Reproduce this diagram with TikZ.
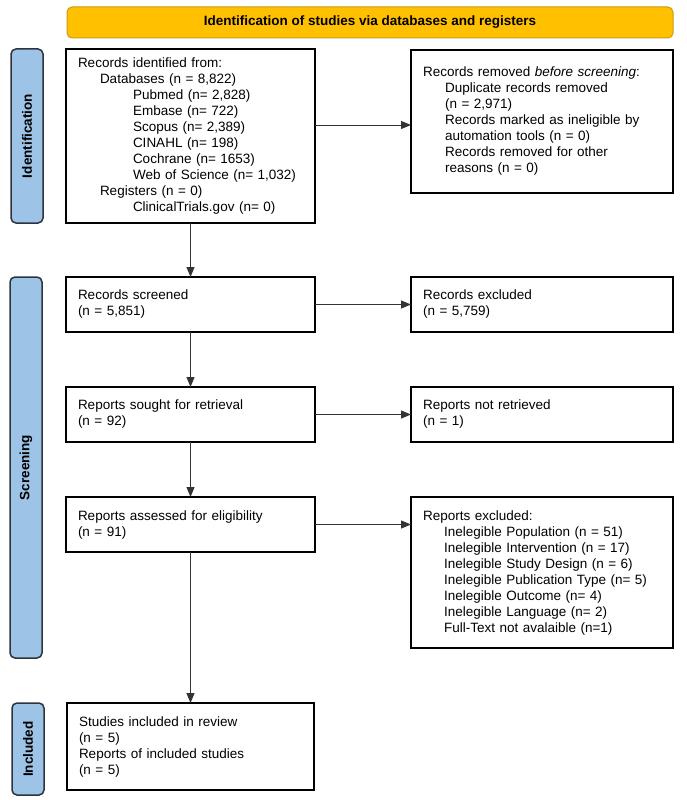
\documentclass[tikz,border=0pt]{standalone}
\usepackage{fontspec}
\setmainfont{Liberation Sans}
\usetikzlibrary{arrows.meta}
\definecolor{sidefill}{RGB}{157,195,230}
\definecolor{sideline}{RGB}{45,52,64}
\definecolor{bannerfill}{RGB}{255,192,0}
\definecolor{bannerline}{RGB}{205,155,20}
\begin{document}
\begin{tikzpicture}[x=1pt,y=-1pt,
  box/.style={draw=black, line width=2pt, anchor=north west, align=left,
    inner xsep=12pt, inner ysep=0pt, outer sep=0pt,
    font=\fontsize{13.5}{16}\selectfont},
  side/.style={draw=sideline, fill=sidefill, line width=1.5pt, rounded corners=5pt,
    rotate=90, minimum height=32pt, inner sep=0pt, outer sep=0pt,
    font=\bfseries\fontsize{13.5}{16}\selectfont},
  banner/.style={draw=bannerline, fill=bannerfill, line width=1pt, rounded corners=5pt,
    minimum width=606pt, minimum height=31pt, inner sep=0pt, outer sep=0pt,
    font=\bfseries\fontsize{13.5}{16}\selectfont},
  arr/.style={draw=black!80, line width=1pt, -{Triangle[length=10pt,width=8pt]}}]
\useasboundingbox[fill=white] (0,0) rectangle (687,800);

\node[banner] (ban) at (370,22.5) {Identification of studies via databases and registers};

\node[side, minimum width=174pt] (sid) at (27,136) {Identification};
\node[side, minimum width=381pt] (sscr) at (26,467.5) {Screening};
\node[side, minimum width=92pt] (sinc) at (28,749) {Included};

\node[box, minimum width=249pt, text width=225pt, minimum height=174pt] (id) at (66,49)
 {Records identified from:\\
  \hspace*{22pt}Databases (n = 8,822)\\
  \hspace*{55pt}Pubmed (n= 2,828)\\
  \hspace*{55pt}Embase (n= 722)\\
  \hspace*{55pt}Scopus (n= 2,389)\\
  \hspace*{55pt}CINAHL (n= 198)\\
  \hspace*{55pt}Cochrane (n= 1653)\\
  \hspace*{55pt}Web of Science (n= 1,032)\\
  \hspace*{22pt}Registers (n = 0)\\
  \hspace*{55pt}ClinicalTrials.gov (n= 0)};

\node[box, minimum width=262pt, text width=238pt, minimum height=143pt] (rem) at (411,50)
 {Records removed \textit{before screening}:\\
  \hspace*{22pt}Duplicate records removed\\
  \hspace*{22pt}(n = 2,971)\\
  \hspace*{22pt}Records marked as ineligible by\\
  \hspace*{22pt}automation tools (n = 0)\\
  \hspace*{22pt}Records removed for other\\
  \hspace*{22pt}reasons (n = 0)};

\node[box, minimum width=249pt, text width=225pt, minimum height=55pt] (scr) at (66,277)
 {Records screened\\(n = 5,851)};
\node[box, minimum width=262pt, text width=238pt, minimum height=55pt] (exc) at (411,277)
 {Records excluded\\(n = 5,759)};

\node[box, minimum width=249pt, text width=225pt, minimum height=55pt] (sou) at (66,387)
 {Reports sought for retrieval\\(n = 92)};
\node[box, minimum width=262pt, text width=238pt, minimum height=55pt] (ret) at (411,387)
 {Reports not retrieved\\(n = 1)};

\node[box, minimum width=249pt, text width=225pt, minimum height=55pt] (ass) at (66,497)
 {Reports assessed for eligibility\\(n = 91)};
\node[box, minimum width=262pt, text width=238pt, minimum height=151pt] (rex) at (411,497)
 {Reports excluded:\\
  \hspace*{21pt}Inelegible Population (n = 51)\\
  \hspace*{21pt}Inelegible Intervention (n = 17)\\
  \hspace*{21pt}Inelegible Study Design (n = 6)\\
  \hspace*{21pt}Inelegible Publication Type (n= 5)\\
  \hspace*{21pt}Inelegible Outcome (n= 4)\\
  \hspace*{21pt}Inelegible Language (n= 2)\\
  \hspace*{21pt}Full-Text not avalaible (n=1)};

\node[box, minimum width=247pt, text width=223pt, minimum height=87pt] (inc) at (67,703)
 {Studies included in review\\(n = 5)\\Reports of included studies\\(n = 5)};

\coordinate (lvl) at (0,125);
\draw[arr] (id.east |- lvl) -- (rem.west |- lvl);
\draw[arr] (id.south) -- (scr.north);
\draw[arr] (scr.east) -- (exc.west);
\draw[arr] (scr.south) -- (sou.north);
\draw[arr] (sou.east) -- (ret.west);
\draw[arr] (sou.south) -- (ass.north);
\draw[arr] (ass.east) -- (ass.east -| rex.west);
\draw[arr] (ass.south) -- (inc.north);
\end{tikzpicture}
\end{document}
